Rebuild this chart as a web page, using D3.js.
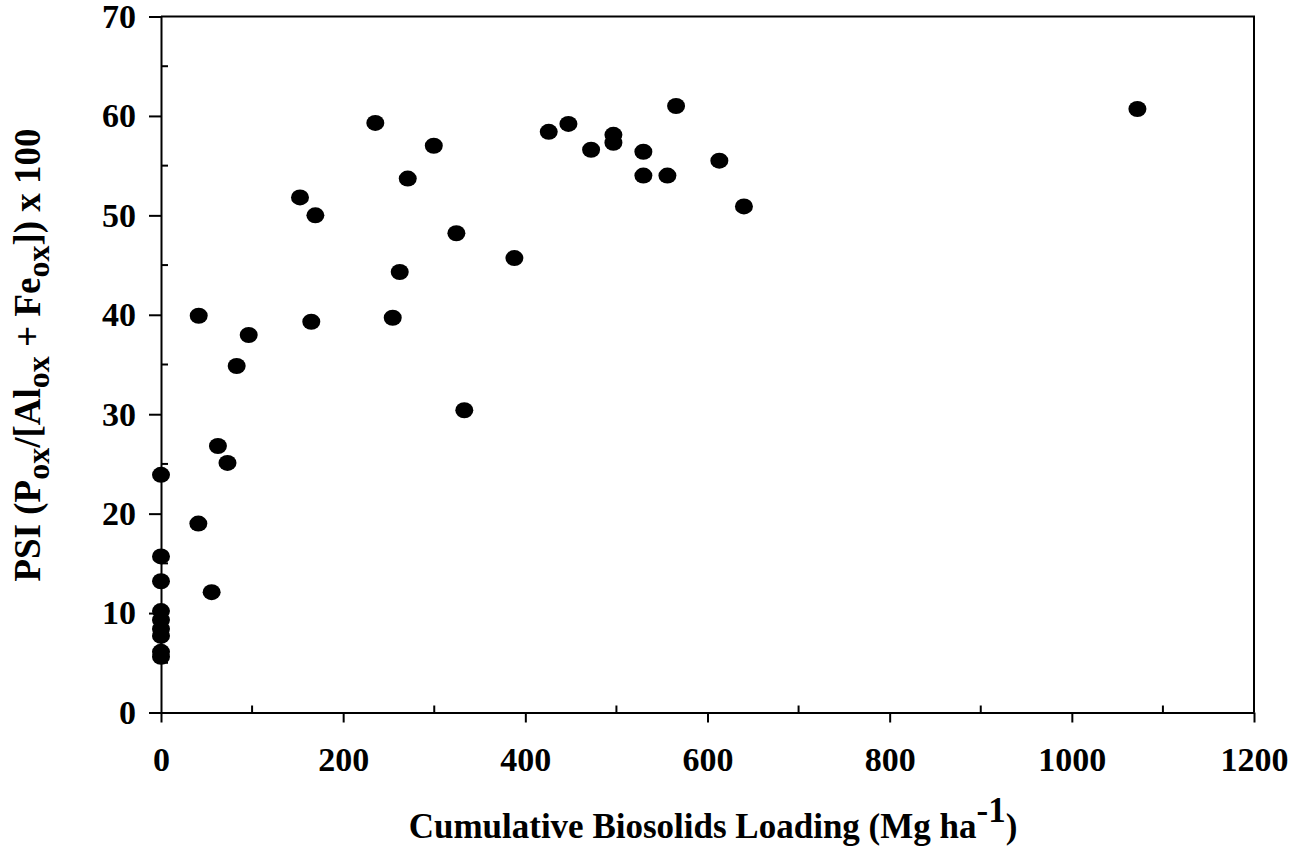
<!DOCTYPE html>
<html>
<head>
<meta charset="utf-8">
<script src="https://cdn.jsdelivr.net/npm/d3@7"></script>
<style>
  html, body { margin: 0; padding: 0; background: #fff; }
  svg { display: block; }
  text { font-family: "Liberation Serif", "Times New Roman", serif; font-weight: bold; fill: #000; }
</style>
</head>
<body>
<svg id="chart" width="1306" height="852"></svg>
<script>
// Cumulative biosolids loading (Mg ha-1) and phosphorus saturation index
const loading = [
  0, 0, 0, 0, 0, 0, 0, 0, 0,
  41, 55.6, 62.5, 73, 41.4, 83.1, 96.3,
  152.6, 165, 169.5, 235.3, 254.4, 262.1, 270.9, 299.5, 324.3, 333, 388,
  425.7, 447.3, 472.2, 496.7, 496.7, 529.6, 529.6, 556, 565.5, 613, 640,
  1072
];
const psi = [
  23.9, 15.7, 13.2, 10.2, 9.3, 8.4, 7.7, 6.1, 5.6,
  19.0, 12.1, 26.8, 25.1, 39.9, 34.85, 37.97,
  51.8, 39.3, 50.0, 59.3, 39.7, 44.3, 53.7, 57.0, 48.2, 30.4, 45.7,
  58.4, 59.2, 56.6, 58.1, 57.3, 56.4, 54.0, 54.0, 61.0, 55.5, 50.9,
  60.7
];

const xMajor = [0, 200, 400, 600, 800, 1000, 1200];
const xMinor = [100, 300, 500, 700, 900, 1100];
const yMajor = [0, 10, 20, 30, 40, 50, 60, 70];
const yMinor = [5, 15, 25, 35, 45, 55, 65];

const svg = d3.select("#chart");
const plotL = 161, plotR = 1254, plotT = 16.5, plotB = 712.5;

const x = d3.scaleLinear().domain([0, 1200]).range([plotL, plotR]);
const y = d3.scaleLinear().domain([0, 70]).range([plotB, plotT]);

// frame (top and right edges)
svg.append("path")
  .attr("d", `M${plotL},${plotT}H${plotR}V${plotB}`)
  .attr("fill", "none").attr("stroke", "#000").attr("stroke-width", 2);

// x axis: major ticks outward with labels, minor ticks inward
const gx = svg.append("g").attr("transform", `translate(0,${plotB})`);
gx.call(d3.axisBottom(x).tickValues(xMajor).tickSize(10).tickSizeOuter(0).tickPadding(24).tickFormat(d3.format("d")));
gx.call(g => g.selectAll(".tick text").attr("font-size", 34).attr("font-family", "Liberation Serif").attr("font-weight", "bold"));
gx.append("g").selectAll("line").data(xMinor).join("line")
  .attr("x1", d => x(d)).attr("x2", d => x(d)).attr("y1", 0).attr("y2", -7)
  .attr("stroke", "#000").attr("stroke-width", 2);

// y axis: major ticks outward with labels, minor ticks inward
const gy = svg.append("g").attr("transform", `translate(${plotL},0)`);
gy.call(d3.axisLeft(y).tickValues(yMajor).tickSize(12).tickSizeOuter(0).tickPadding(13).tickFormat(d3.format("d")));
gy.call(g => g.selectAll(".tick text").attr("font-size", 34).attr("font-family", "Liberation Serif").attr("font-weight", "bold"));
gy.append("g").selectAll("line").data(yMinor).join("line")
  .attr("x1", 0).attr("x2", 7).attr("y1", d => y(d)).attr("y2", d => y(d))
  .attr("stroke", "#000").attr("stroke-width", 2);

svg.selectAll(".domain, .tick line").attr("stroke", "#000").attr("stroke-width", 2);

// data points
svg.append("g").selectAll("ellipse").data(loading).join("ellipse")
  .attr("cx", d => x(d))
  .attr("cy", (d, i) => y(psi[i]))
  .attr("rx", 9).attr("ry", 8)
  .attr("fill", "#000");

// x axis title
const xt = svg.append("text")
  .attr("x", 713).attr("y", 838)
  .attr("text-anchor", "middle")
  .attr("font-size", 35);
xt.append("tspan").text("Cumulative Biosolids Loading (Mg ha");
xt.append("tspan").attr("dy", -16).text("-1");
xt.append("tspan").attr("dy", 16).text(")");

// y axis title
const yt = svg.append("text")
  .attr("transform", "translate(40,355) rotate(-90)")
  .attr("text-anchor", "middle")
  .attr("font-size", 37);
yt.append("tspan").text("PSI (P");
yt.append("tspan").attr("dy", 9).attr("font-size", 32).text("ox");
yt.append("tspan").attr("dy", -9).text("/[Al");
yt.append("tspan").attr("dy", 9).attr("font-size", 32).text("ox");
yt.append("tspan").attr("dy", -9).text(" + Fe");
yt.append("tspan").attr("dy", 9).attr("font-size", 32).text("ox");
yt.append("tspan").attr("dy", -9).text("]) x 100");
</script>
</body>
</html>
